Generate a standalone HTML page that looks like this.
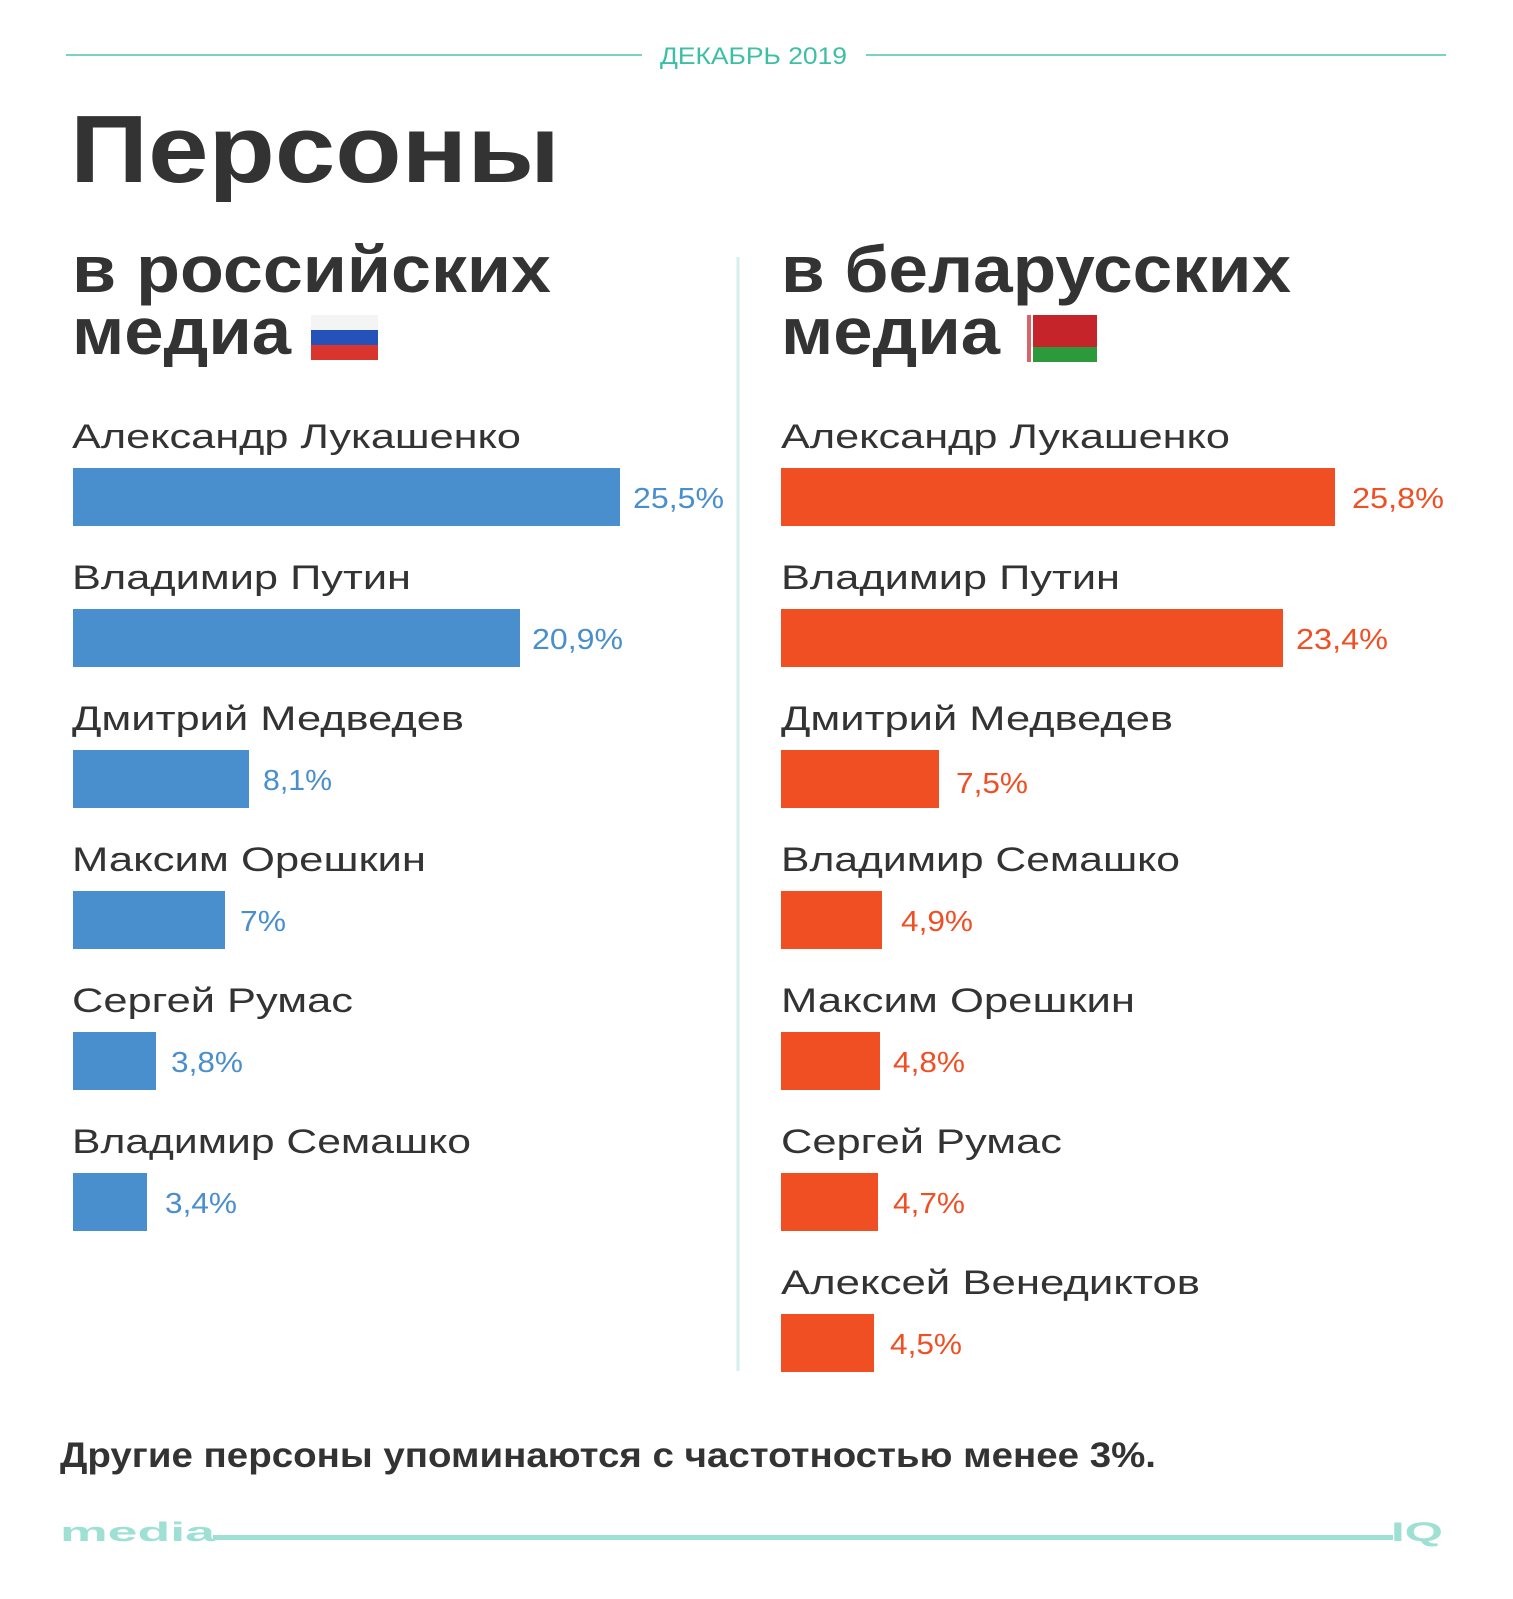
<!DOCTYPE html>
<html><head><meta charset="utf-8"><style>
html,body{margin:0;padding:0;background:#fff;}
svg{display:block;}
text{font-family:"Liberation Sans",sans-serif;}
</style></head><body>
<svg width="1513" height="1599" viewBox="0 0 1513 1599" xmlns="http://www.w3.org/2000/svg">
<rect width="1513" height="1599" fill="#fff"/>
<line x1="66" y1="55" x2="642" y2="55" stroke="#4fc3ad" stroke-width="1.5"/>
<line x1="866" y1="55" x2="1446" y2="55" stroke="#4fc3ad" stroke-width="1.5"/>
<text x="660" y="64" font-size="24" fill="#3dbfa6" textLength="187" lengthAdjust="spacingAndGlyphs">ДЕКАБРЬ 2019</text>
<text x="70" y="182" font-size="96" font-weight="bold" fill="#333" textLength="490" lengthAdjust="spacingAndGlyphs">Персоны</text>
<text x="72" y="292" font-size="66" font-weight="bold" fill="#333" textLength="479" lengthAdjust="spacingAndGlyphs">в российских</text>
<text x="72" y="354" font-size="66" font-weight="bold" fill="#333" textLength="219" lengthAdjust="spacingAndGlyphs">медиа</text>
<g><rect x="311" y="315" width="67" height="15" fill="#f4f4f4"/><rect x="311" y="330" width="67" height="15" fill="#2552b8"/><rect x="311" y="345" width="67" height="15" fill="#d8352e"/></g>
<text x="781" y="292" font-size="66" font-weight="bold" fill="#333" textLength="510" lengthAdjust="spacingAndGlyphs">в беларусских</text>
<text x="781" y="354" font-size="66" font-weight="bold" fill="#333" textLength="219" lengthAdjust="spacingAndGlyphs">медиа</text>
<g><rect x="1025" y="315" width="72" height="32" fill="#c6242b"/><rect x="1025" y="347" width="72" height="15" fill="#2c9a3a"/><rect x="1025" y="315" width="8" height="47" fill="#fff"/><rect x="1027" y="315" width="4" height="47" fill="#c6242b" opacity="0.7"/></g>
<line x1="738" y1="257" x2="738" y2="1371" stroke="#d4efec" stroke-width="3"/>

<g fill="#333" font-size="34">
<text x="72" y="448" textLength="449" lengthAdjust="spacingAndGlyphs">Александр Лукашенко</text>
<text x="72" y="589" textLength="339" lengthAdjust="spacingAndGlyphs">Владимир Путин</text>
<text x="72" y="730" textLength="392" lengthAdjust="spacingAndGlyphs">Дмитрий Медведев</text>
<text x="72" y="871" textLength="354" lengthAdjust="spacingAndGlyphs">Максим Орешкин</text>
<text x="72" y="1012" textLength="281" lengthAdjust="spacingAndGlyphs">Сергей Румас</text>
<text x="72" y="1153" textLength="399" lengthAdjust="spacingAndGlyphs">Владимир Семашко</text>

<text x="781" y="448" textLength="449" lengthAdjust="spacingAndGlyphs">Александр Лукашенко</text>
<text x="781" y="589" textLength="339" lengthAdjust="spacingAndGlyphs">Владимир Путин</text>
<text x="781" y="730" textLength="392" lengthAdjust="spacingAndGlyphs">Дмитрий Медведев</text>
<text x="781" y="871" textLength="399" lengthAdjust="spacingAndGlyphs">Владимир Семашко</text>
<text x="781" y="1012" textLength="354" lengthAdjust="spacingAndGlyphs">Максим Орешкин</text>
<text x="781" y="1153" textLength="281" lengthAdjust="spacingAndGlyphs">Сергей Румас</text>
<text x="781" y="1294" textLength="419" lengthAdjust="spacingAndGlyphs">Алексей Венедиктов</text>
</g>

<g fill="#4a8fcd">
<rect x="73" y="468" width="547" height="58"/>
<rect x="73" y="609" width="447" height="58"/>
<rect x="73" y="750" width="176" height="58"/>
<rect x="73" y="891" width="152" height="58"/>
<rect x="73" y="1032" width="83" height="58"/>
<rect x="73" y="1173" width="74" height="58"/>
</g>
<g fill="#4a8fcd" font-size="29">
<text x="633" y="508" textLength="91" lengthAdjust="spacingAndGlyphs">25,5%</text>
<text x="532" y="649" textLength="91" lengthAdjust="spacingAndGlyphs">20,9%</text>
<text x="263" y="790" textLength="69" lengthAdjust="spacingAndGlyphs">8,1%</text>
<text x="240" y="931" textLength="46" lengthAdjust="spacingAndGlyphs">7%</text>
<text x="171" y="1072" textLength="72" lengthAdjust="spacingAndGlyphs">3,8%</text>
<text x="165" y="1213" textLength="72" lengthAdjust="spacingAndGlyphs">3,4%</text>
</g>

<g fill="#f04f24">
<rect x="781" y="468" width="554" height="58"/>
<rect x="781" y="609" width="502" height="58"/>
<rect x="781" y="750" width="158" height="58"/>
<rect x="781" y="891" width="101" height="58"/>
<rect x="781" y="1032" width="99" height="58"/>
<rect x="781" y="1173" width="97" height="58"/>
<rect x="781" y="1314" width="93" height="58"/>
</g>
<g fill="#f04f24" font-size="29">
<text x="1352" y="508" textLength="92" lengthAdjust="spacingAndGlyphs">25,8%</text>
<text x="1296" y="649" textLength="92" lengthAdjust="spacingAndGlyphs">23,4%</text>
<text x="956" y="793" textLength="72" lengthAdjust="spacingAndGlyphs">7,5%</text>
<text x="901" y="931" textLength="72" lengthAdjust="spacingAndGlyphs">4,9%</text>
<text x="893" y="1072" textLength="72" lengthAdjust="spacingAndGlyphs">4,8%</text>
<text x="893" y="1213" textLength="72" lengthAdjust="spacingAndGlyphs">4,7%</text>
<text x="890" y="1354" textLength="72" lengthAdjust="spacingAndGlyphs">4,5%</text>
</g>

<text x="60" y="1467" font-size="35" font-weight="bold" fill="#333" textLength="1096" lengthAdjust="spacingAndGlyphs">Другие персоны упоминаются с частотностью менее 3%.</text>

<text x="60" y="1541" font-size="27" font-weight="bold" fill="#9fe0d5" textLength="155" lengthAdjust="spacingAndGlyphs">media</text>
<rect x="213" y="1535" width="1180" height="5" fill="#9fe0d5"/>
<text x="1391" y="1541" font-size="27" font-weight="bold" fill="#9fe0d5" textLength="52" lengthAdjust="spacingAndGlyphs">IQ</text>
</svg>
</body></html>
